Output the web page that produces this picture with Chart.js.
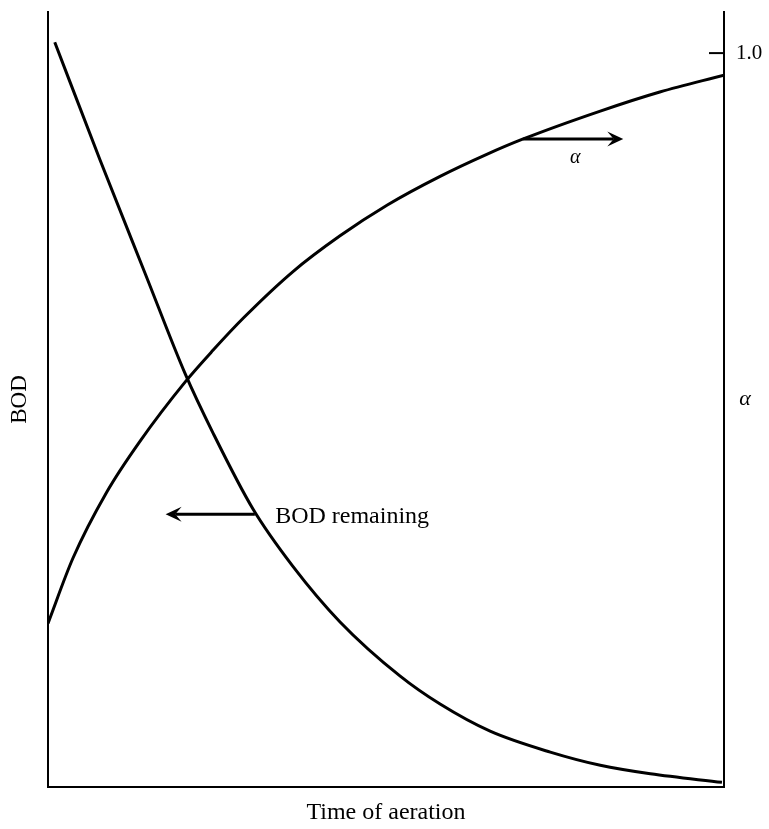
<!DOCTYPE html>
<html>
<head>
<meta charset="utf-8">
<script src="https://cdn.jsdelivr.net/npm/chart.js@4"></script>
<style>
  html, body { margin: 0; padding: 0; background: #fff; }
  #wrap { width: 769px; height: 829px; }
</style>
</head>
<body>
<div id="wrap"><canvas id="c" width="769" height="829"></canvas></div>
<script>
// ---- data ----
const timeBOD = [0.10, 0.77, 1.44, 2.03, 2.44, 3.03, 3.62, 4.32, 5.21, 5.80, 6.54, 7.43, 8.17, 8.91, 9.97];
const bodRemaining = [0.961, 0.809, 0.662, 0.533, 0.457, 0.359, 0.285, 0.213, 0.143, 0.107, 0.072, 0.045, 0.028, 0.017, 0.006];
const timeAlpha = [0, 0.37, 0.87, 1.36, 2.03, 2.44, 2.89, 3.62, 4.32, 5.02, 5.80, 6.49, 7.03, 8.17, 9.05, 10];
const alphaValues = [0.223, 0.312, 0.402, 0.471, 0.552, 0.595, 0.639, 0.702, 0.751, 0.793, 0.832, 0.862, 0.883, 0.921, 0.947, 0.970];
const alphaTicks = [1.0];
const xTitle = 'Time of aeration';
const yLeftTitle = 'BOD';
const yRightTitle = 'α';
// annotation arrows (data units)
const bodArrow = { from: [3.06, 0.352], to: [1.74, 0.352], label: 'BOD remaining', labelAt: [3.36, 0.352] };
const alphaArrow = { from: [7.03, 0.883], to: [8.51, 0.883], label: 'α', labelAt: [7.80, 0.857] };

const SERIF = '"Liberation Serif", "Times New Roman", serif';

function pts(xs, ys) { return xs.map((x, i) => ({ x: x, y: ys[i] })); }

function arrow(ctx, x1, y1, x2, y2) {
  const ang = Math.atan2(y2 - y1, x2 - x1);
  const hl = 16, hw = 7.5;
  const c = Math.cos(ang), s = Math.sin(ang);
  ctx.beginPath();
  ctx.moveTo(x1, y1);
  ctx.lineTo(x2 - c * hl * 0.6, y2 - s * hl * 0.6);
  ctx.stroke();
  ctx.beginPath();
  ctx.moveTo(x2, y2);
  ctx.lineTo(x2 - c * hl - s * hw, y2 - s * hl + c * hw);
  ctx.lineTo(x2 - c * hl * 0.6, y2 - s * hl * 0.6);
  ctx.lineTo(x2 - c * hl + s * hw, y2 - s * hl - c * hw);
  ctx.closePath();
  ctx.fill();
}

const annotations = {
  id: 'annotations',
  afterDatasetsDraw(chart) {
    const ctx = chart.ctx;
    const x = chart.scales.x, yb = chart.scales.yBOD, ya = chart.scales.yAlpha;
    const area = chart.chartArea;
    ctx.save();
    ctx.strokeStyle = '#000';
    ctx.fillStyle = '#000';
    ctx.lineWidth = 3;
    ctx.lineCap = 'butt';
    // BOD arrow
    arrow(ctx, x.getPixelForValue(bodArrow.from[0]), yb.getPixelForValue(bodArrow.from[1]),
               x.getPixelForValue(bodArrow.to[0]), yb.getPixelForValue(bodArrow.to[1]));
    ctx.font = '24px ' + SERIF;
    ctx.textAlign = 'left';
    ctx.textBaseline = 'middle';
    ctx.fillText(bodArrow.label, x.getPixelForValue(bodArrow.labelAt[0]), yb.getPixelForValue(bodArrow.labelAt[1]) + 3);
    // alpha arrow
    arrow(ctx, x.getPixelForValue(alphaArrow.from[0]), ya.getPixelForValue(alphaArrow.from[1]),
               x.getPixelForValue(alphaArrow.to[0]), ya.getPixelForValue(alphaArrow.to[1]));
    ctx.font = 'italic 20px ' + SERIF;
    ctx.textAlign = 'center';
    ctx.fillText(alphaArrow.label, x.getPixelForValue(alphaArrow.labelAt[0]), ya.getPixelForValue(alphaArrow.labelAt[1]));
    // inward tick mark on the right axis
    ctx.lineWidth = 2;
    alphaTicks.forEach(v => {
      const py = ya.getPixelForValue(v);
      ctx.beginPath();
      ctx.moveTo(ya.left - 15, py);
      ctx.lineTo(ya.left, py);
      ctx.stroke();
    });
    // upright right-axis title
    ctx.font = 'italic 22px ' + SERIF;
    ctx.textAlign = 'center';
    ctx.textBaseline = 'middle';
    ctx.fillText(yRightTitle, ya.left + 21, (area.top + area.bottom) / 2);
    ctx.restore();
  }
};

function noPad(s) { s.paddingTop = 0; s.paddingBottom = 0; s.paddingLeft = 0; s.paddingRight = 0; }

new Chart(document.getElementById('c'), {
  type: 'line',
  data: {
    datasets: [
      {
        label: 'BOD remaining',
        data: pts(timeBOD, bodRemaining),
        yAxisID: 'yBOD',
        borderColor: '#000',
        borderWidth: 3,
        pointRadius: 0,
        fill: false,
        cubicInterpolationMode: 'monotone'
      },
      {
        label: 'α',
        data: pts(timeAlpha, alphaValues),
        yAxisID: 'yAlpha',
        borderColor: '#000',
        borderWidth: 3,
        pointRadius: 0,
        fill: false,
        cubicInterpolationMode: 'monotone'
      }
    ]
  },
  options: {
    responsive: false,
    animation: false,
    events: [],
    layout: { padding: { top: 12, left: 0, right: 0, bottom: 0 } },
    plugins: { legend: { display: false }, tooltip: { enabled: false }, title: { display: false } },
    scales: {
      x: {
        type: 'linear', min: 0, max: 10,
        grid: { display: false },
        border: { display: true, color: '#000', width: 2 },
        ticks: { display: false },
        title: { display: true, text: xTitle, color: '#000', font: { family: SERIF, size: 24 }, padding: { top: 0, bottom: 2 } },
        afterFit(s) { s.height = 42; noPad(s); }
      },
      yBOD: {
        type: 'linear', position: 'left', min: 0, max: 1,
        grid: { display: false },
        border: { display: true, color: '#000', width: 2 },
        ticks: { display: false },
        title: { display: true, text: yLeftTitle, color: '#000', font: { family: SERIF, size: 23 }, padding: { top: 6, bottom: 0 } },
        afterFit(s) { s.width = 48; noPad(s); }
      },
      yAlpha: {
        type: 'linear', position: 'right', min: 0, max: 1.056,
        grid: { display: false, drawTicks: false },
        border: { display: true, color: '#000', width: 2 },
        afterBuildTicks(s) { s.ticks = alphaTicks.map(v => ({ value: v })); },
        ticks: { color: '#000', padding: 12, font: { family: SERIF, size: 21 }, callback: v => Number(v).toFixed(1) },
        title: { display: false },
        afterFit(s) { s.width = 45; noPad(s); }
      }
    }
  },
  plugins: [annotations]
});
</script>
</body>
</html>
